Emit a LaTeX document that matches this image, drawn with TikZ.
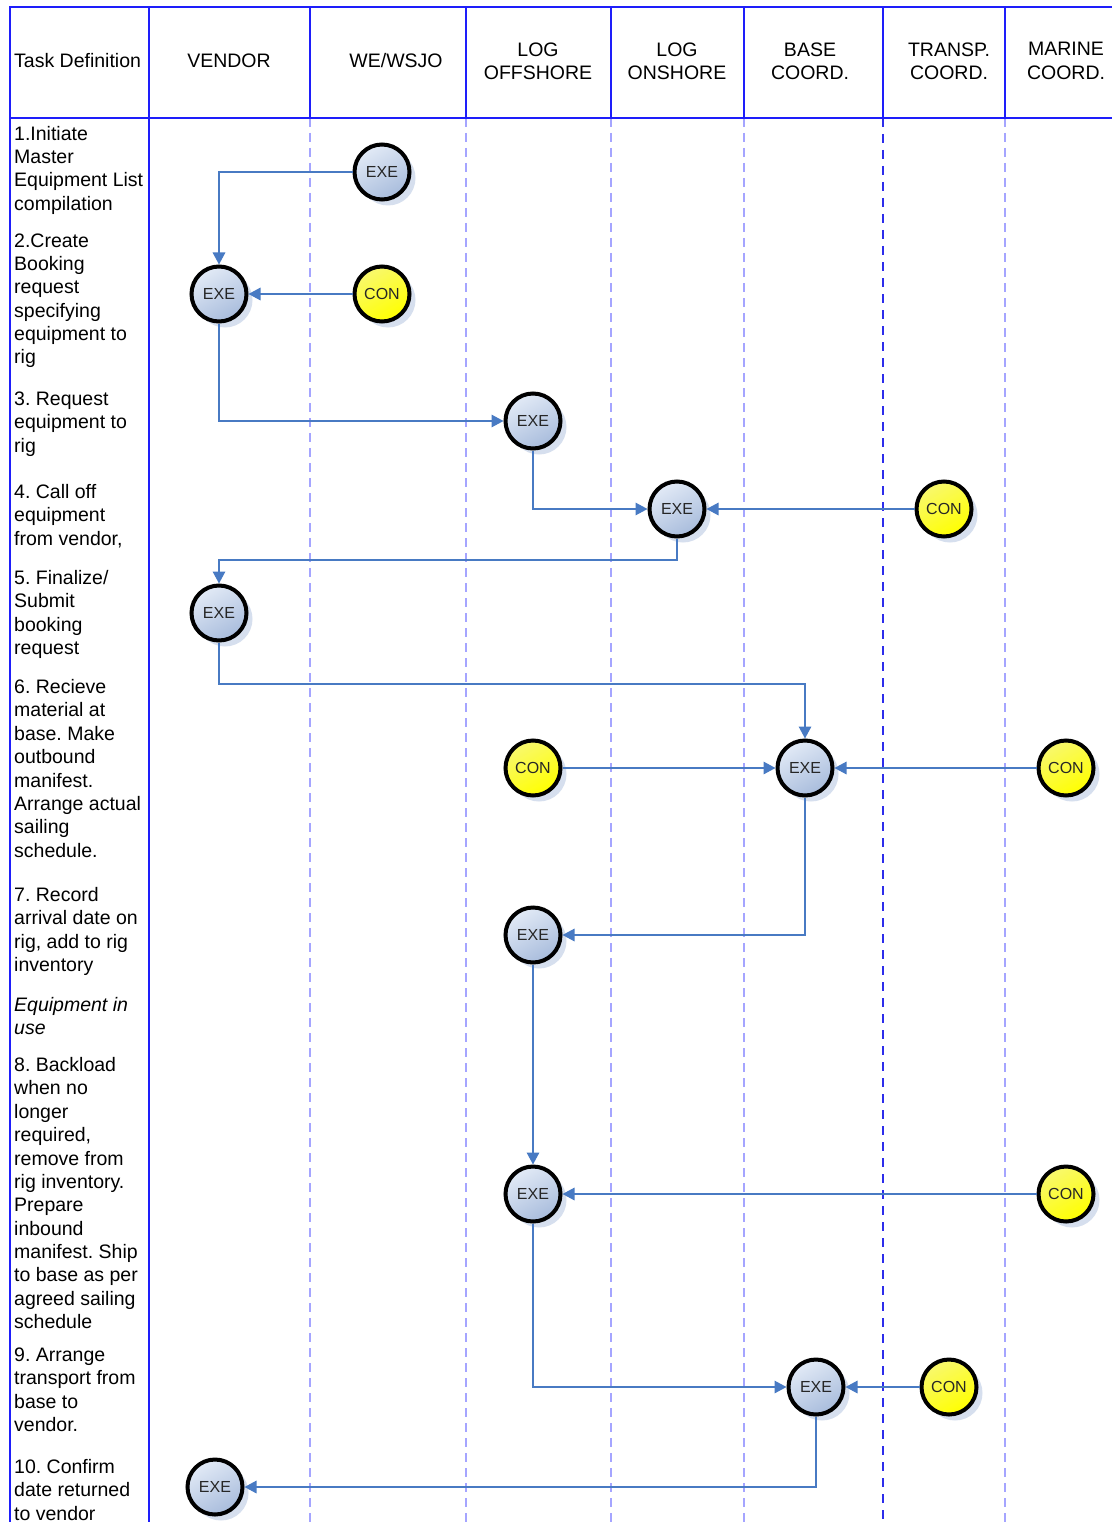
\documentclass[tikz,border=0pt]{standalone}
\usepackage{fontspec}
\setmainfont{Liberation Sans}
\usetikzlibrary{arrows.meta,shadows}
\definecolor{tblue}{RGB}{30,30,250}
\definecolor{lav}{RGB}{165,165,255}
\definecolor{dblue}{RGB}{45,45,235}
\definecolor{linkblue}{RGB}{72,122,195}
\definecolor{shadowc}{RGB}{214,223,238}
\definecolor{exetop}{RGB}{226,234,246}
\definecolor{exebot}{RGB}{168,188,220}
\definecolor{contop}{RGB}{248,248,110}
\definecolor{conbot}{RGB}{255,255,0}
\frenchspacing
\begin{document}
\begin{tikzpicture}[x=1pt,y=-1pt,
  grid/.style={tblue,line width=2pt},
  lane/.style={lav,line width=2.2pt,dash pattern=on 9pt off 6pt},
  lanedark/.style={dblue,line width=1.6pt,dash pattern=on 9pt off 7pt},
  link/.style={draw=linkblue,line width=1.5pt,-{Triangle[length=12pt,width=12.5pt]}},
  role/.style={circle,draw=black,line width=4pt,minimum size=55pt,inner sep=0pt,
    font=\fontsize{16}{16}\selectfont,text=black!85,
    drop shadow={shadow xshift=6pt,shadow yshift=-6pt,fill=shadowc,opacity=1}},
  exe/.style={role,top color=exetop,bottom color=exebot,shading angle=30},
  con/.style={role,top color=contop,bottom color=conbot,shading angle=30},
  head/.style={font=\fontsize{19.5}{23.3}\selectfont,align=center,inner sep=0pt},
  task/.style={font=\fontsize{19.5}{23.36}\selectfont,align=left,anchor=north west,inner sep=0pt}
]
\useasboundingbox (0,0) rectangle (1112,1522);
\fill[white] (0,0) rectangle (1112,1522);

% lanes
\foreach \x in {310,466,611,744,1005}
  \draw[lane] (\x,118) -- (\x,1522);
\draw[lanedark] (883,118) -- (883,1522);

% grid
\draw[grid] (10,1522) -- (10,7) -- (1112,7);
\draw[grid] (10,118) -- (1112,118);
\draw[grid] (149,7) -- (149,1522);
\foreach \x in {310,466,611,744,883,1005}
  \draw[grid] (\x,7) -- (\x,118);

% headers
\node[head,anchor=west] (th) at (14,61) {Task Definition};
\node[head] (h1) at (229,61) {VENDOR};
\node[head] (h2) at (396,61) {WE/WSJO};
\node[head] (h3) at (538,61) {LOG\\OFFSHORE};
\node[head] (h4) at (677,61) {LOG\\ONSHORE};
\node[head] (h5) at (810,61) {BASE\\COORD.};
\node[head] (h6) at (949,61) {TRANSP.\\COORD.};
\node[head] (h7) at (1066,61) {MARINE\\COORD.};

% task texts
\node[task] (t1) at (14,123.5) {\strut 1.Initiate\\Master\\Equipment List\\compilation};
\node[task] (t2) at (14,230.5) {\strut 2.Create\\Booking\\request\\specifying\\equipment to\\rig};
\node[task] (t3) at (14,389) {\strut 3. Request\\equipment to\\rig};
\node[task] (t4) at (14,482) {\strut 4. Call off\\equipment\\from vendor,};
\node[task] (t5) at (14,568) {\strut 5. Finalize/\\Submit\\booking\\request};
\node[task] (t6) at (14,677) {\strut 6. Recieve\\material at\\base. Make\\outbound\\manifest.\\Arrange actual\\sailing\\schedule.};
\node[task] (t7) at (14,885) {\strut 7. Record\\arrival date on\\rig, add to rig\\inventory};
\node[task,font=\fontsize{19.5}{23.36}\selectfont\itshape] (ti) at (14,995) {\strut Equipment in\\use};
\node[task] (t8) at (14,1055) {\strut 8. Backload\\when no\\longer\\required,\\remove from\\rig inventory.\\Prepare\\inbound\\manifest. Ship\\to base as per\\agreed sailing\\schedule};
\node[task] (t9) at (14,1345) {\strut 9. Arrange\\transport from\\base to\\vendor.};
\node[task] (t10) at (14,1457) {\strut 10. Confirm\\date returned\\to vendor};

% role nodes
\node[exe] (w1) at (382,172) {EXE};
\node[exe] (v2) at (219,294) {EXE};
\node[con] (c2) at (382,294) {CON};
\node[exe] (lo3) at (533,421) {EXE};
\node[exe] (lon4) at (677,509) {EXE};
\node[con] (tc4) at (944,509) {CON};
\node[exe] (v5) at (219,613) {EXE};
\node[con] (lc6) at (533,768) {CON};
\node[exe] (be6) at (805,768) {EXE};
\node[con] (mc6) at (1066,768) {CON};
\node[exe] (lo7) at (533,935) {EXE};
\node[exe] (lo8) at (533,1194) {EXE};
\node[con] (mc8) at (1066,1194) {CON};
\node[exe] (be9) at (816,1387) {EXE};
\node[con] (tc9) at (949,1387) {CON};
\node[exe] (v10) at (215,1487) {EXE};

% bend points
\coordinate (b1) at (219,560);
\coordinate (b2) at (805,684);

% connectors
\draw[link] (w1) -| (v2);
\draw[link] (c2) -- (v2);
\draw[link] (v2) |- (lo3);
\draw[link] (lo3) |- (lon4);
\draw[link] (tc4) -- (lon4);
\draw[link] (lon4) |- (b1) -- (v5);
\draw[link] (v5) |- (b2) -- (be6);
\draw[link] (lc6) -- (be6);
\draw[link] (mc6) -- (be6);
\draw[link] (be6) |- (lo7);
\draw[link] (lo7) -- (lo8);
\draw[link] (mc8) -- (lo8);
\draw[link] (lo8) |- (be9);
\draw[link] (tc9) -- (be9);
\draw[link] (be9) |- (v10);
\end{tikzpicture}
\end{document}
